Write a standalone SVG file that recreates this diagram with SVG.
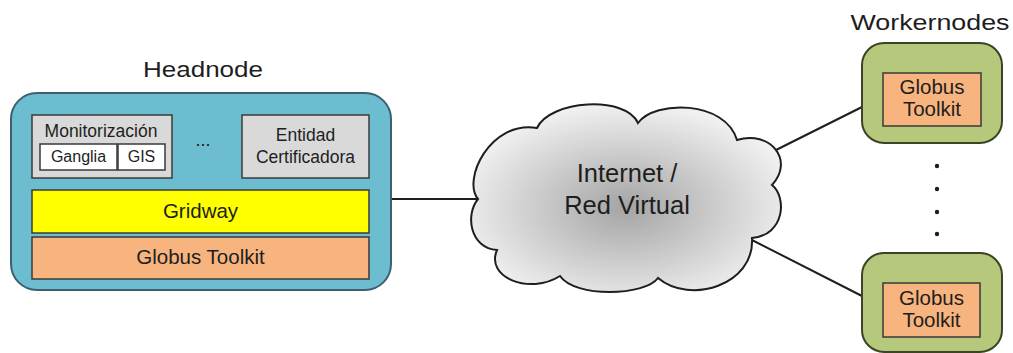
<svg xmlns="http://www.w3.org/2000/svg" width="1013" height="353" viewBox="0 0 1013 353">
<defs>
<radialGradient id="cloudGrad" cx="0.5" cy="0.55" r="0.55">
<stop offset="0" stop-color="#a4a4a4"/>
<stop offset="1" stop-color="#f0f0f0"/>
</radialGradient>
</defs>
<style>
text { font-family: "Liberation Sans", Arial, sans-serif; fill: #1e1e1e; text-anchor: middle; }
.title { font-size: 22px; }
.gray { fill: #d9d9d9; stroke: #3a3a3a; stroke-width: 1.5; }
.white { fill: #ffffff; stroke: #3a3a3a; stroke-width: 1.5; }
.yellow { fill: #ffff00; stroke: #3a3a3a; stroke-width: 1.5; }
.orange { fill: #f8b47e; stroke: #3a3a3a; stroke-width: 1.5; }
.worker { fill: #b5c87c; stroke: #3b4424; stroke-width: 2; }
.conn { stroke: #1e1e1e; stroke-width: 2; fill: none; }
</style>

<g id="connectors">
<line class="conn" x1="391" y1="199" x2="478" y2="199"/>
<line class="conn" x1="770" y1="153" x2="862" y2="107"/>
<line class="conn" x1="750" y1="239" x2="862" y2="296"/>
</g>

<g id="headnode">
<text class="title" x="203" y="77" textLength="120" lengthAdjust="spacingAndGlyphs">Headnode</text>
<rect x="11" y="93" width="380" height="197" rx="26" fill="#6dbdd1" stroke="#3d5f6e" stroke-width="2"/>
<g id="monitorizacion">
<rect class="gray" x="32" y="115" width="140" height="63"/>
<text x="101" y="137" font-size="17.5">Monitorización</text>
<rect class="white" x="40" y="144" width="77" height="26"/>
<text x="78.5" y="162" font-size="16">Ganglia</text>
<rect class="white" x="118" y="144" width="47" height="26"/>
<text x="141.5" y="162" font-size="16">GIS</text>
</g>
<text x="203" y="146" font-size="18">...</text>
<g id="entidad">
<rect class="gray" x="242" y="115" width="127" height="63"/>
<text x="305.5" y="141" font-size="17.5">Entidad</text>
<text x="305.5" y="163" font-size="17.5">Certificadora</text>
</g>
<g id="gridway">
<rect class="yellow" x="32" y="190" width="337" height="43"/>
<text x="200.5" y="218" font-size="20.5">Gridway</text>
</g>
<g id="globus">
<rect class="orange" x="32" y="237" width="337" height="42"/>
<text x="200.5" y="264" font-size="20.5">Globus Toolkit</text>
</g>
</g>

<g id="cloud">
<path d="M537,128 C550,100 625,95 638,123 C655,100 725,100 737,140 C770,130 795,160 772,185 C787,197 785,235 752,238 C755,285 690,305 658,278 C645,296 575,298 560,276 C530,295 485,278 497,250 C470,248 465,215 478,199 C462,180 490,120 537,128 Z" fill="url(#cloudGrad)" stroke="#1e1e1e" stroke-width="2"/>
<text x="627" y="182" font-size="25.5">Internet /</text>
<text x="627" y="214" font-size="25.5">Red Virtual</text>
</g>

<g id="workernodes">
<text class="title" x="930" y="30" textLength="159" lengthAdjust="spacingAndGlyphs">Workernodes</text>
</g>

<g id="worker1">
<rect class="worker" x="862" y="43" width="140" height="100" rx="22"/>
<rect class="orange" x="883" y="73" width="98" height="53"/>
<text x="932" y="94" font-size="20.5">Globus</text>
<text x="932" y="116" font-size="20.5">Toolkit</text>
</g>

<g id="dots">
<circle cx="937" cy="166" r="2.2" fill="#1e1e1e"/>
<circle cx="937" cy="189" r="2.2" fill="#1e1e1e"/>
<circle cx="937" cy="212" r="2.2" fill="#1e1e1e"/>
<circle cx="937" cy="234" r="2.2" fill="#1e1e1e"/>
</g>

<g id="worker2">
<rect class="worker" x="862" y="253" width="140" height="99" rx="22"/>
<rect class="orange" x="883" y="283" width="97" height="54"/>
<text x="931.5" y="305" font-size="20.5">Globus</text>
<text x="931.5" y="327" font-size="20.5">Toolkit</text>
</g>
</svg>
